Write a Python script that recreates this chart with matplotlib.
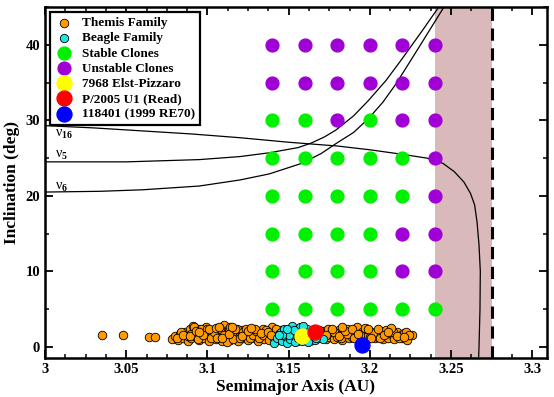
import matplotlib
matplotlib.use("Agg")
import matplotlib.pyplot as plt
from matplotlib.ticker import MultipleLocator, AutoMinorLocator

plt.rcParams['font.family'] = ['Liberation Serif', 'DejaVu Serif']
plt.rcParams['font.weight'] = 'bold'
plt.rcParams['mathtext.fontset'] = 'custom'
plt.rcParams['mathtext.rm'] = 'Liberation Serif'
plt.rcParams['mathtext.it'] = 'Liberation Serif'

# Themis family (a [AU], inclination [deg])
themis_a = [3.035, 3.048, 3.064, 3.068, 3.078, 3.080, 3.082, 3.083, 3.085, 3.086,
            3.087, 3.088, 3.089, 3.090, 3.091, 3.092, 3.093, 3.094, 3.095, 3.096,
            3.097, 3.098, 3.099, 3.100, 3.101, 3.102, 3.103, 3.104, 3.105, 3.106,
            3.107, 3.108, 3.109, 3.110, 3.111, 3.112, 3.113, 3.114, 3.115, 3.116,
            3.117, 3.118, 3.119, 3.120, 3.121, 3.122, 3.123, 3.124, 3.125, 3.126,
            3.127, 3.128, 3.129, 3.130, 3.131, 3.132, 3.133, 3.134, 3.135, 3.136,
            3.137, 3.138, 3.139, 3.140, 3.141, 3.142, 3.143, 3.144, 3.145, 3.146,
            3.147, 3.149, 3.151, 3.153, 3.155, 3.157, 3.160, 3.162, 3.164, 3.168,
            3.170, 3.171, 3.172, 3.173, 3.174, 3.175, 3.176, 3.177, 3.178, 3.179,
            3.180, 3.181, 3.182, 3.183, 3.184, 3.185, 3.186, 3.187, 3.188, 3.189,
            3.190, 3.191, 3.192, 3.193, 3.195, 3.196, 3.197, 3.198, 3.199, 3.200,
            3.201, 3.202, 3.203, 3.204, 3.205, 3.206, 3.207, 3.208, 3.209, 3.210,
            3.211, 3.212, 3.213, 3.214, 3.215, 3.216, 3.217, 3.218, 3.219, 3.220,
            3.221, 3.222, 3.223, 3.226,
            3.084, 3.088, 3.090, 3.092, 3.094, 3.096, 3.098, 3.100, 3.102, 3.104,
            3.106, 3.108, 3.110, 3.112, 3.114, 3.116, 3.118, 3.120, 3.122, 3.124,
            3.126, 3.128, 3.130, 3.132, 3.134, 3.136, 3.138, 3.140, 3.142, 3.144,
            3.148, 3.152, 3.174, 3.178, 3.182, 3.186, 3.190, 3.194, 3.198, 3.202,
            3.206, 3.210, 3.214, 3.218, 3.222, 3.224,
            3.081, 3.085, 3.089, 3.093, 3.097, 3.101, 3.105, 3.109, 3.113, 3.117,
            3.121, 3.125, 3.129, 3.133, 3.137, 3.141, 3.145, 3.150, 3.169, 3.173,
            3.177, 3.181, 3.185, 3.189, 3.193, 3.197, 3.201, 3.205, 3.209, 3.213,
            3.217, 3.221, 3.115, 3.127, 3.139, 3.183, 3.199, 3.211, 3.095, 3.107]
themis_i = [1.6, 1.5, 1.3, 1.3, 1.0, 1.4, 0.9, 1.7, 1.2, 2.0,
            1.5, 0.8, 2.3, 1.1, 2.7, 1.8, 1.3, 2.4, 0.9, 1.6,
            2.1, 1.2, 2.6, 1.5, 0.8, 1.9, 2.2, 1.3, 1.0, 1.7,
            2.0, 1.4, 0.7, 2.9, 1.8, 1.2, 2.3, 0.9, 1.6, 2.1,
            1.3, 1.9, 0.8, 1.5, 2.2, 1.1, 1.7, 1.3, 0.9, 1.8,
            1.4, 2.0, 1.1, 1.6, 0.8, 1.9, 1.3, 2.4, 1.0, 1.7,
            1.4, 2.1, 1.1, 2.6, 1.5, 0.9, 1.9, 1.3, 2.2, 1.0,
            1.6, 2.0, 1.2, 2.3, 0.8, 1.7, 2.4, 1.1, 1.6, 1.2,
            1.8, 1.4, 2.1, 1.0, 1.6, 1.3, 2.0, 1.5, 1.0, 1.8,
            1.3, 2.2, 1.6, 0.9, 1.9, 1.4, 2.4, 1.1, 1.7, 1.3,
            2.0, 1.5, 2.6, 1.2, 1.9, 1.4, 2.1, 1.0, 1.6, 1.3,
            2.0, 1.5, 1.1, 1.8, 1.3, 2.1, 1.6, 1.0, 1.9, 1.4,
            1.2, 1.8, 2.2, 1.5, 1.0, 1.7, 2.0, 1.3, 1.6, 1.1,
            1.8, 1.4, 0.9, 1.6,
            1.9, 1.4, 1.7, 2.6, 1.0, 2.3, 1.8, 2.4, 1.1, 2.0,
            1.2, 2.3, 1.5, 0.6, 2.6, 1.0, 2.4, 1.2, 1.9, 2.3,
            1.1, 1.6, 2.1, 1.1, 1.6, 2.2, 0.9, 1.8, 2.3, 1.7,
            1.3, 1.8, 2.3, 1.9, 1.2, 1.7, 1.1, 1.6, 2.3, 1.8,
            1.2, 2.2, 1.9, 1.1, 2.0, 1.5,
            1.2, 1.6, 1.4, 2.1, 1.5, 2.3, 2.5, 1.2, 1.7, 2.4,
            1.4, 2.1, 2.4, 1.8, 2.0, 1.1, 1.5, 1.8, 2.2, 1.5,
            2.3, 1.4, 2.1, 2.3, 1.7, 2.5, 1.2, 2.3, 1.6, 2.5,
            1.4, 1.3, 2.6, 2.5, 1.5, 2.6, 2.3, 2.0, 2.0, 2.6]

# Beagle family
beagle_a = [3.141, 3.143, 3.145, 3.146, 3.147, 3.148, 3.149, 3.150, 3.151, 3.152,
            3.153, 3.154, 3.155, 3.156, 3.157, 3.158, 3.159, 3.160, 3.161, 3.162,
            3.163, 3.164, 3.165, 3.166, 3.168, 3.171, 3.150, 3.156, 3.146, 3.153,
            3.159, 3.162, 3.149, 3.144, 3.167]
beagle_i = [0.5, 1.1, 1.9, 0.7, 2.4, 1.4, 0.5, 2.0, 1.0, 2.7,
            1.6, 0.6, 2.2, 1.2, 2.6, 0.8, 1.9, 1.1, 2.4, 1.5,
            0.7, 2.0, 1.3, 0.9, 1.4, 1.0, 1.5, 1.7, 1.5, 2.2,
            2.8, 0.6, 2.4, 1.6, 1.1]

# clone grid
stable_a = [3.14, 3.16, 3.18, 3.20, 3.22, 3.24,
            3.14, 3.16, 3.18, 3.20,
            3.14, 3.16, 3.18, 3.20,
            3.14, 3.16, 3.18, 3.20, 3.22,
            3.14, 3.16, 3.18, 3.20, 3.22,
            3.14, 3.16, 3.20]
stable_i = [5, 5, 5, 5, 5, 5,
            10, 10, 10, 10,
            15, 15, 15, 15,
            20, 20, 20, 20, 20,
            25, 25, 25, 25, 25,
            30, 30, 30]
unstable_a = [3.22, 3.24, 3.22, 3.24, 3.24, 3.24,
              3.18, 3.22, 3.24,
              3.14, 3.16, 3.18, 3.20, 3.22, 3.24,
              3.14, 3.16, 3.18, 3.20, 3.22, 3.24]
unstable_i = [10, 10, 15, 15, 20, 25,
              30, 30, 30,
              35, 35, 35, 35, 35, 35,
              40, 40, 40, 40, 40, 40]

# individual objects
elst_pizarro = (3.158, 1.4)
read_comet = (3.166, 2.0)
re70 = (3.195, 0.3)

# secular resonances
nu16_a = [3.0, 3.03, 3.06, 3.09, 3.12, 3.15, 3.18, 3.20, 3.22, 3.235, 3.245,
          3.252, 3.258, 3.262, 3.2645, 3.2660, 3.2672, 3.2680, 3.2678, 3.2672, 3.2670]
nu16_i = [29.3, 29.0, 28.6, 28.2, 27.7, 27.1, 26.6, 26.1, 25.5, 25.0, 24.3,
          23.2, 21.8, 20.3, 18.8, 16.5, 13.5, 10.0, 5.0, 0.0, -1.3]
nu5_a = [3.0, 3.05, 3.095, 3.12, 3.138, 3.156, 3.164, 3.172, 3.179, 3.19, 3.199,
         3.21, 3.22, 3.232, 3.244]
nu5_i = [24.5, 24.5, 24.8, 25.2, 25.7, 26.4, 27.0, 27.8, 28.7, 30.6, 32.6,
         35.3, 38.2, 41.8, 45.5]
nu6_a = [3.0, 3.034, 3.06, 3.095, 3.12, 3.138, 3.158, 3.17, 3.179, 3.19, 3.199,
         3.208, 3.216, 3.23, 3.247]
nu6_i = [20.5, 20.6, 20.8, 21.3, 22.1, 22.9, 24.3, 25.6, 26.9, 28.4, 30.2,
         32.4, 34.8, 39.6, 45.5]

fig = plt.figure(figsize=(5.54, 3.97), dpi=100)
ax = fig.add_axes([0.0812, 0.098, 0.906, 0.884])

ax.axvspan(3.24, 3.275, color='#d9b9ba', lw=0, zorder=0)
ax.axvline(3.275, color='k', lw=2.2, ls=(0, (4, 2.5)), zorder=1)

ax.plot(nu16_a, nu16_i, color='k', lw=0.9, zorder=2)
ax.plot(nu5_a, nu5_i, color='k', lw=0.9, zorder=2)
ax.plot(nu6_a, nu6_i, color='k', lw=0.9, zorder=2)
ax.text(3.006, 28.1, '\u03bd$_{16}$', fontsize=10, fontweight='normal', va='center', ha='left')
ax.text(3.006, 25.3, '\u03bd$_{5}$', fontsize=10, fontweight='normal', va='center', ha='left')
ax.text(3.006, 21.1, '\u03bd$_{6}$', fontsize=10, fontweight='normal', va='center', ha='left')

ax.scatter(themis_a, themis_i, s=38, c='#ff9a00', edgecolors='k', linewidths=0.6,
           zorder=3, label='Themis Family')
ax.scatter(beagle_a, beagle_i, s=36, c='#22e6e6', edgecolors='k', linewidths=0.6,
           zorder=4, label='Beagle Family')
ax.scatter(stable_a, stable_i, s=85, c='#00f000', zorder=3, label='Stable Clones')
ax.scatter(unstable_a, unstable_i, s=85, c='#a000d6', zorder=3, label='Unstable Clones')
ax.scatter(*elst_pizarro, s=115, c='#ffff00', zorder=5, label='7968 Elst-Pizzaro')
ax.scatter(*read_comet, s=115, c='#ff0000', zorder=5, label='P/2005 U1 (Read)')
ax.scatter(*re70, s=115, c='#0000ff', zorder=5, label='118401 (1999 RE70)')

ax.set_xlim(3.0, 3.309)
ax.set_ylim(-1.5, 45)
ax.xaxis.set_minor_locator(AutoMinorLocator(4))
ax.yaxis.set_major_locator(MultipleLocator(10))
ax.yaxis.set_minor_locator(AutoMinorLocator(2))
ax.set_xticks([3.0, 3.05, 3.1, 3.15, 3.2, 3.25, 3.3])
ax.set_xticklabels(['3', '3.05', '3.1', '3.15', '3.2', '3.25', '3.3'])
ax.tick_params(which='both', direction='in', top=True, right=True, labelsize=10.5)
ax.tick_params(which='major', length=6, width=1.3)
ax.tick_params(which='minor', length=3, width=1.1)
for sp in ax.spines.values():
    sp.set_linewidth(1.8)

ax.set_xlabel('Semimajor Axis (AU)', fontsize=12.5, fontweight='bold', labelpad=2)
ax.set_ylabel('Inclination (deg)', fontsize=12.5, fontweight='bold', labelpad=4)

lg = ax.legend(loc='upper left', bbox_to_anchor=(0.009, 0.985), borderaxespad=0,
               fancybox=False, framealpha=1, edgecolor='k', scatterpoints=1,
               prop={'weight': 'bold', 'size': 9.5}, labelspacing=0.22,
               handletextpad=0.6, borderpad=0.35, handlelength=1.5)
lg.get_frame().set_linewidth(1.6)

fig.savefig('out.png', dpi=100)
